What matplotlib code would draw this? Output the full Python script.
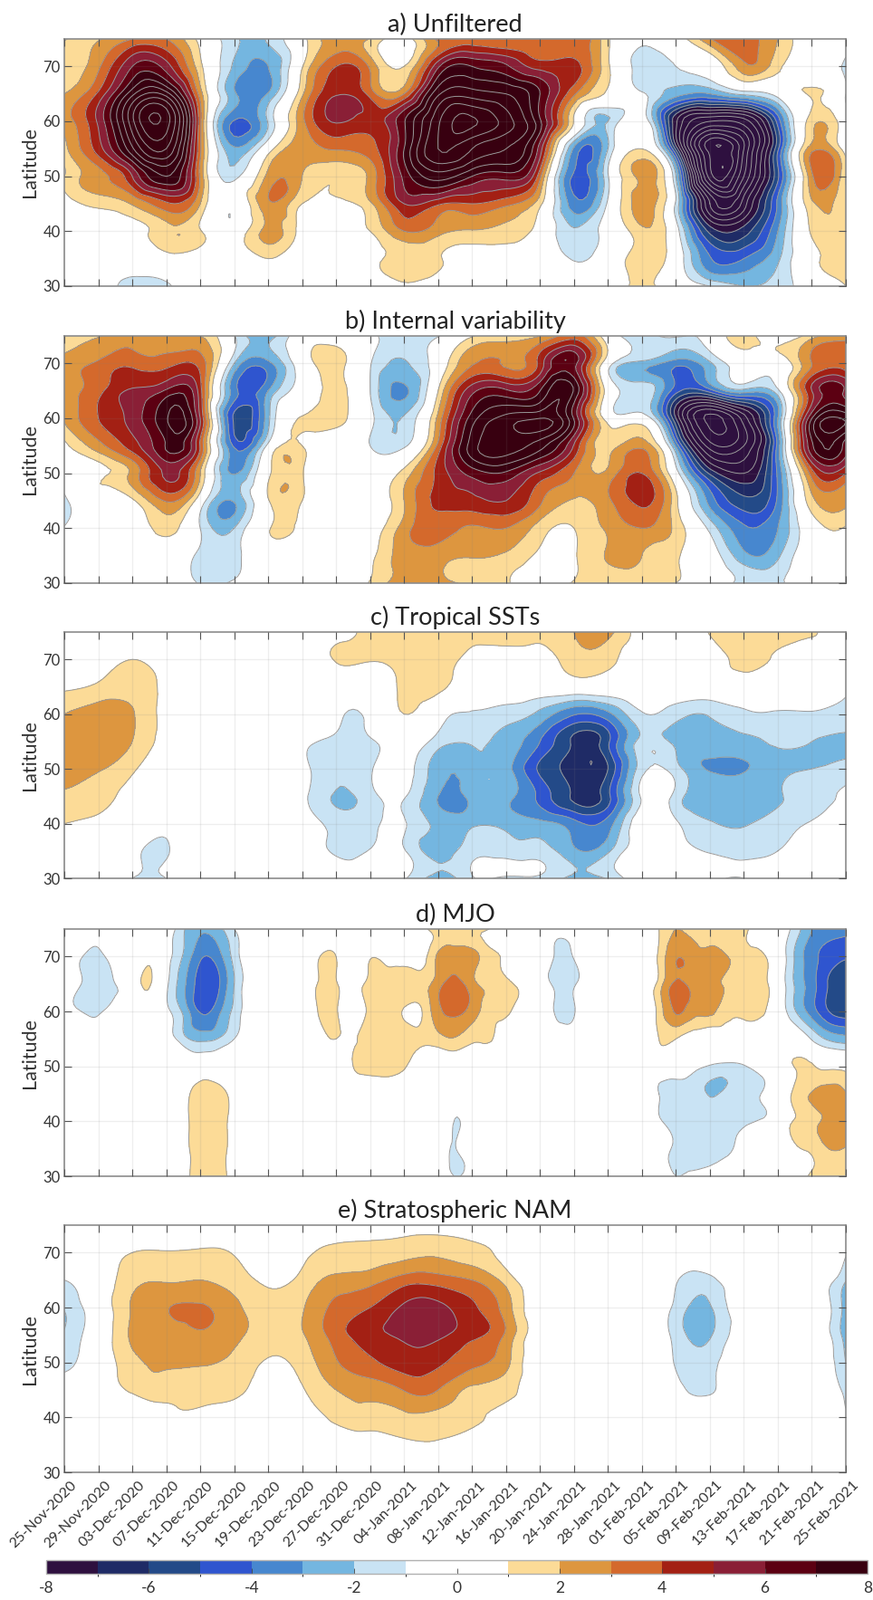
import numpy as np
import matplotlib
matplotlib.use('Agg')
import matplotlib.pyplot as plt
import matplotlib.tri as mtri
from matplotlib.colors import ListedColormap, BoundaryNorm
from matplotlib.cm import ScalarMappable
from matplotlib.transforms import ScaledTranslation

plt.rcParams['font.family'] = ['Lato', 'DejaVu Sans']

tick_labels = ['25-Nov-2020', '29-Nov-2020', '03-Dec-2020', '07-Dec-2020', '11-Dec-2020', '15-Dec-2020',
               '19-Dec-2020', '23-Dec-2020', '27-Dec-2020', '31-Dec-2020', '04-Jan-2021', '08-Jan-2021',
               '12-Jan-2021', '16-Jan-2021', '20-Jan-2021', '24-Jan-2021', '28-Jan-2021', '01-Feb-2021',
               '05-Feb-2021', '09-Feb-2021', '13-Feb-2021', '17-Feb-2021', '21-Feb-2021', '25-Feb-2021']
days = np.arange(0, 93, 4)
days_fine = np.arange(0, 93, 2)
lats = np.arange(75, 29, -5)

# one line per date (every 4 days), values from 75N down to 30N
unfiltered = [
    [.9, 1.4, 2.0, 2.5, 1.7, 1.0, .5, .2, 0, -.2],
    [1.9, 2.8, 4.2, 5.2, 4.5, 2.7, 1.3, .5, .1, -.4],
    [3.0, 6.0, 8.7, 10.7, 8.8, 5.0, 2.1, .6, -.2, -1.4],
    [3.0, 5.5, 9.5, 12.5, 11, 8, 3.8, 1.7, .5, -1.2],
    [.6, 1.3, 2.5, 3.3, 3.2, 2.8, 2.0, 1.1, .2, 0],
    [-1.8, -2.2, -2.8, -4.1, -2.8, -1.4, -.5, -.1, 0, 0],
    [-1.9, -3.0, -2.9, -1.9, .3, 2.3, 2.8, 2.3, 1.0, 0],
    [.6, .9, 1.8, 2.7, 2.6, 2.0, 1.0, .4, 0, 0],
    [2.6, 4.0, 4.9, 5.1, 3.1, 1.1, .7, .3, 0, 0],
    [1.9, 2.8, 3.6, 4.5, 3.6, 2.3, 1.8, 1.0, .6, .2],
    [.5, 1.0, 3.0, 6.9, 7.0, 6.3, 5.0, 3.0, 1.5, .9],
    [3.2, 5.8, 8.8, 10.8, 11, 8.5, 4.2, 2.4, 1.1, .4],
    [3.5, 7, 9.5, 12.2, 10, 7, 4, 1.9, .7, .1],
    [3, 6.2, 9, 10.5, 9, 6.5, 3.3, 1.6, .7, 0],
    [3, 4.6, 7, 7.2, 5.5, 3.3, 1.3, .4, .1, 0],
    [3.7, 4.4, 3.2, .9, -3.2, -4.2, -3.6, -1.9, -1.1, -.4],
    [1.2, 1.2, .8, -2, -2, -1.1, -.8, -.4, 0, .2],
    [-.9, -1.4, -.8, 0, 1.0, 2.3, 2.4, 1.7, 1.5, 1.3],
    [.3, -1, -2.6, -7.8, -6.3, -2, -1.2, -.4, 0, 0],
    [2.9, -.1, -3, -11, -15.5, -14.5, -10, -6.3, -3.9, -1],
    [3.7, 2.7, -1.7, -10.5, -13, -12, -9.5, -6.5, -4, -2],
    [2, 1.3, -.5, -4.6, -5.2, -5.2, -3.8, -3, -2.2, -1.6],
    [0, 0, 1.1, 1.6, 2.6, 2.8, 1.8, 1.2, .6, 0],
    [-.6, -1.2, -1, 0, .2, 1, 1.5, 1.3, 1.1, 1],
]

internal = [
    [1.5, 2.5, 2.7, 2.1, .7, -.9, -1.3, -.9, 0, 0],
    [1.9, 3.2, 3.7, 4.0, 2.6, .7, .3, 0, 0, 0],
    [2.8, 3.7, 5.2, 5.4, 4.5, 2.3, .8, .2, 0, 0],
    [2.1, 3.6, 6.2, 7.9, 7.1, 5.2, 3.1, 1.4, .1, 0],
    [2, 3.6, 4.4, 5, 3.9, 2, 0, -1, -1.2, -1.1],
    [-.9, -2, -3.6, -5.2, -4.2, -3.1, -2.9, -2, -1.3, -.8],
    [-2.4, -3.3, -3, -2.3, -.6, .7, .9, .9, .1, 0],
    [0, 0, -.2, 1.1, 1.0, 1.1, 1.0, .6, 0, 0],
    [-.3, 1.4, 1.3, 1.3, .4, 0, 0, 0, 0, 0],
    [-.7, -.9, -1, -.6, -1, 0, .1, .3, .7, 1.1],
    [-2, -2.1, -3.2, -1.9, -1.2, 1.4, 2, 2.5, 2.5, 2.6],
    [-1.1, -.1, 1.0, 2.3, 3.3, 4.3, 4.3, 3.5, 2.4, 2.3],
    [.9, 2.9, 5.7, 7.5, 8.5, 6.4, 4.7, 2.9, 2.1, 1.9],
    [1.2, 2.9, 6.2, 9.4, 9.5, 6.8, 5, 3, 1.8, 1.1],
    [2, 4.4, 7, 10, 8.4, 4.8, 3.2, 1.5, .8, .5],
    [3.5, 6.4, 7.9, 6.9, 4.9, 3, 1.9, 1, .9, 1.1],
    [0, -.2, .3, .3, 1.5, 2.3, 2.8, 2.2, 2.1, 1.4],
    [-1.2, -2.4, -1.2, -.1, 2.7, 4, 4.3, 3, 2, 1.1],
    [-.9, -3.6, -4.6, -7, -3.2, -.4, 1.3, 1.7, 1.1, 1],
    [-.4, -2.2, -4.5, -12.3, -10.5, -6.2, -3.4, -1.3, -.2, 0],
    [1.6, 0, -2.4, -9.5, -10, -8, -5.7, -3.8, -2.7, -1.3],
    [0, 0, -1.3, -3, -3.6, -3.8, -3.8, -3, -2.2, -1.1],
    [1.6, 3, 5, 7, 6.8, 3.5, 1.7, .2, 0, -.9],
    [2.4, 3.6, 5.8, 8.8, 6.5, 4, 2.2, .9, 0, -.7],
]

tropical = [
    [0, 0, .8, 2.0, 2.4, 2.3, 1.9, 1, .3, 0],
    [0, .3, 1.2, 2.4, 2.6, 2.1, 1.5, .7, 0, 0],
    [.2, 1, 1.5, 2.1, 2, 1.2, .5, 0, -.7, -1],
    [0, .4, .7, .6, .5, .1, 0, -.7, -1.1, -1],
    [0, 0, 0, 0, 0, 0, 0, 0, 0, 0],
    [0, 0, 0, 0, 0, 0, 0, 0, 0, 0],
    [0, 0, 0, 0, 0, 0, 0, 0, 0, 0],
    [0, 0, 0, -.3, -.7, -.7, -.7, -.4, 0, 0],
    [.5, 1.1, 0, -.8, -1.3, -1.8, -2.1, -1.4, -1.2, -.7],
    [1.3, 1.1, .2, -.7, -1.2, -1.2, -1.4, -1.3, -.9, -.4],
    [1.5, 1.5, 1.3, 1, 0, -.3, -.9, -.9, -.9, -.9],
    [1.6, 1.7, 1.4, -.4, -1.5, -2.6, -3.0, -2.3, -2.5, -2.5],
    [1.5, .6, 0, -1.1, -1.9, -2.5, -2.7, -2.2, -1.4, -1.1],
    [1.5, .6, 0, -1.5, -2.4, -2.6, -2.7, -2.3, -1.5, -1.2],
    [1.3, .6, 0, -2.3, -4, -5.2, -4.3, -2.7, -1.5, -1.2],
    [2, 1.5, .1, -3.9, -6.2, -6.5, -6.2, -3.6, -2.8, -2.3],
    [2.3, 1.4, 0, -3.3, -5.2, -6.0, -5.3, -3.5, -2.2, -1.9],
    [.4, 0, 0, -1.1, -1.6, -1.4, -.8, 0, 0, 0],
    [0, 0, 0, -1.6, -2.3, -1.6, -1.4, -.8, -.2, 0],
    [1.1, .3, 0, -1.9, -2.4, -3.1, -2.4, -1.9, -1.1, -.8],
    [1.7, 1.5, .1, -1.2, -2.2, -3.1, -2.4, -2.1, -1.3, -1],
    [1.5, .7, 0, -1.1, -1.9, -2.3, -2.1, -1.5, -1, -.4],
    [1.1, .3, 0, -1.1, -2, -2, -1.4, -.9, -.3, 0],
    [0, 0, -.7, -1.3, -2.2, -1.6, -.9, -.4, 0, 0],
]

# MJO has thin features, so it is read every 2 days: one line per latitude
mjo = [
    [0]*7 + [-1.9, -2.7, -2.4, -1.0] + [0]*10 + [.4, 1.7, 1.8, 1.4, 1.0, .3] + [0]*8 + [1.0, 2.0, 1.9, 1.7, 1.1, 1.1, .6, 0, -1.4, -3.0, -3.5, -3.7],
    [0, -.9, -1.4, -.3, 0, .9, -.4, -2.1, -3.8, -3.5, -1.6, -.2, 0, 0, 0, .95, 1.0, 0, .9, .6, .5, .5, 2.2, 2.6, 2.4, 1.4, .8, .2, 0, -1.2, -.9, 0, 0, 0, 0, 1.2, 2.9, 2.5, 2.4, 2.05, 1.4, 1.2, 0, -2.1, -3.6, -4.5, -4.9],
    [0, -1, -1.4, -1, 0, 1.1, -.7, -2.7, -4.5, -4.3, -2, -.4, 0, 0, 0, 1.1, 1.1, .4, 1.4, 1.6, 1.7, 1.6, 2.6, 3.4, 2.4, 1.7, 1.4, .6, 0, -1.5, -1.2, 0, 0, 0, 0, 1.4, 3.2, 2.6, 2.2, 1.8, 1.4, 1.3, 0, -2.1, -3.6, -5.1, -5.9],
    [0, -1, -1.3, -.2, 0, .9, -.6, -2.2, -4.1, -3.4, -1.7, -.2, 0, 0, 0, 1.1, 1.1, .5, 1.3, 1.5, .9, .9, 2.7, 3.2, 2.6, 1.5, 1.2, .4, 0, -1.2, -1.1, 0, 0, 0, 0, 1.4, 3.1, 2.4, 2.2, 1.4, 1.3, 1.2, 0, -1.9, -3.5, -5, -5.6],
    [0]*6 + [-.3, -1.6, -2.3, -2, -1] + [0]*4 + [.6, 1, .9, 1.4, 1.4, 1.4, 1.2, 1.6, 1.9, 1.2, 1.1, .3, 0, 0, -.3] + [0]*5 + [1, 1, .4] + [0]*5 + [-.1, -1.1, -2.2, -2.6],
    [0]*17 + [1, 1.4, 1.5, 1.1, .4] + [0]*15 + [-.5, -1.1, -1.3, -1.1, -.5, 0, 1.05, 1.05, .9, .8],
    [0]*7 + [.6, 1.6, 1.5, .6] + [0]*12 + [-.5] + [0]*11 + [-1, -1.3, -1.5, -2.05, -1.8, -1.5, -1, -.2, 1.3, 2.1, 2.7, 2.1],
    [0]*7 + [.6, 1.6, 1.5, .6] + [0]*12 + [-1.05] + [0]*11 + [-.8, -1.4, -1.4, -1.5, -1.5, -1.3, -.9, -.2, 1.1, 1.6, 2.5, 2.6],
    [0]*7 + [.6, 1.6, 1.5, .6] + [0]*12 + [-1.05] + [0]*11 + [-.6, -1.1, -1.3, -1.3, -1.1, -.7, -.2, 0, .8, 1.2, 2, 1.9],
    [0]*7 + [.6, 1.6, 1.5, .6] + [0]*12 + [-1.05] + [0]*11 + [-.2, -1, -.7, -.4, 0, 0, 0, 0, .3, 1.2, 1.4, 1.5],
]

strat = [
    [0, 0, -1, -1.9, -1.9, -1.4, -.3, 0, 0, 0],
    [0, 0, 0, 0, 0, 0, 0, 0, 0, 0],
    [0, 1, 1.7, 2.1, 2.2, 1.7, 1.2, 0, 0, 0],
    [0, 1.1, 1.9, 2.95, 2.7, 2.2, 1.4, .7, 0, 0],
    [.3, 1.2, 2, 3.1, 2.9, 2.1, 1.4, .7, 0, 0],
    [0, .9, 1.5, 2.3, 2.3, 1.7, 1.2, .4, 0, 0],
    [0, .2, .8, 1.4, 1.5, .9, .6, .1, 0, 0],
    [0, .7, 1.3, 1.9, 1.9, 1.4, .9, .2, 0, 0],
    [0, 1.3, 2.3, 3.3, 3.5, 2.9, 2, 1.3, .3, 0],
    [.3, 1.4, 2.6, 4, 4.6, 3.8, 2.4, 1.5, .6, 0],
    [.4, 1.65, 3.5, 5.2, 5.3, 4.5, 3.05, 1.75, .8, .1],
    [.5, 1.8, 3.5, 5.3, 5.3, 4.2, 3, 1.7, .85, .1],
    [.3, 1.4, 3, 4.2, 4.3, 3.3, 1.8, 1.2, .4, 0],
    [0, .7, 1.6, 2.5, 2.8, 2.3, 1.4, .6, 0, 0],
    [0, 0, 0, 0, 0, 0, 0, 0, 0, 0],
    [0, 0, 0, 0, 0, 0, 0, 0, 0, 0],
    [0, 0, 0, 0, 0, 0, 0, 0, 0, 0],
    [0, 0, 0, 0, 0, 0, 0, 0, 0, 0],
    [0, 0, -.9, -1.3, -1.4, -1.1, -.7, 0, 0, 0],
    [0, -.3, -1.3, -2.1, -2.1, -1.4, -1.1, -.2, 0, 0],
    [0, 0, 0, 0, 0, 0, 0, 0, 0, 0],
    [0, 0, 0, 0, 0, 0, 0, 0, 0, 0],
    [0, 0, 0, 0, 0, 0, 0, 0, 0, 0],
    [0, -.9, -1.9, -2.4, -2.5, -2, -1.2, -.8, 0, 0],
]

colors = ['#2e103f', '#1f2b66', '#234a88', '#2f55cf', '#4787cf', '#74b6e0', '#c9e3f4', '#ffffff',
          '#ffffff', '#fcdb97', '#dd963f', '#d4692c', '#a32014', '#8a1f36', '#5c0012', '#380010']
levels = np.arange(-8, 9)
line_levels = [l for l in range(-20, 21) if l != 0]

cmap = ListedColormap(colors)
cmap.set_under(colors[0])
cmap.set_over(colors[-1])
norm = BoundaryNorm(levels, cmap.N)

W, H = 964., 1767.
fig = plt.figure(figsize=(9.64, 17.67), dpi=100)

panels = [('a) Unfiltered', days, np.array(unfiltered).T, 43, 316),
          ('b) Internal variability', days, np.array(internal).T, 371, 644),
          ('c) Tropical SSTs', days, np.array(tropical).T, 698, 970),
          ('d) MJO', days_fine, np.array(mjo), 1026, 1299),
          ('e) Stratospheric NAM', days, np.array(strat).T, 1353, 1626)]

for title, x, z, top, bottom in panels:
    ax = fig.add_axes([71/W, 1-bottom/H, 863/W, (bottom-top)/H])
    X, Y = np.meshgrid(x, lats)
    # the library's contour refiner, so the contours come out round
    tri = mtri.Triangulation(X.ravel(), Y.ravel())
    tri_fine, z_fine = mtri.UniformTriRefiner(tri).refine_field(z.ravel().astype(float), subdiv=3)
    ax.tricontourf(tri_fine, z_fine, levels=levels, cmap=cmap, norm=norm, extend='both')
    ax.tricontour(tri_fine, z_fine, levels=line_levels, colors='#9a9a9a', linewidths=0.7, linestyles='solid')
    ax.set_xlim(0, 92)
    ax.set_ylim(30, 75)
    ax.set_yticks([30, 40, 50, 60, 70])
    ax.set_xticks(days)
    ax.set_xticklabels([])
    ax.grid(True, color='#808080', alpha=0.13, linewidth=1)
    ax.set_axisbelow(False)
    ax.tick_params(direction='in', length=6, width=0.8, color='#555555', top=True, right=True,
                   labelsize=12, labelcolor='#333333', pad=3)
    for s in ax.spines.values():
        s.set_color('#8c8c8c')
        s.set_linewidth(1.2)
    ax.set_ylabel('Latitude', fontsize=15.5, color='#333333', labelpad=3)
    ax.set_title(title, fontsize=19.5, color='#222222', pad=6)

ax.set_xticklabels(tick_labels, rotation=45, ha='right', rotation_mode='anchor', fontsize=11.5, color='#333333')
shift = ScaledTranslation(5/72., -2/72., fig.dpi_scale_trans)
for lab in ax.get_xticklabels():
    lab.set_transform(lab.get_transform() + shift)

cax = fig.add_axes([51/W, 1-1738/H, 907/W, 15/H])
cb = fig.colorbar(ScalarMappable(norm=norm, cmap=cmap), cax=cax, orientation='horizontal',
                  ticks=np.arange(-8, 9, 2), spacing='proportional')
cb.ax.tick_params(direction='in', length=4, width=0.6, color='#444444', labelsize=12.5, labelcolor='#333333', pad=6)
cb.ax.set_xticklabels(['-8', '-6', '-4', '-2', '0', '2', '4', '6', '8'])
cb.outline.set_edgecolor('#b0b0b0')
cb.outline.set_linewidth(1)

fig.savefig('out.png', dpi=100)
